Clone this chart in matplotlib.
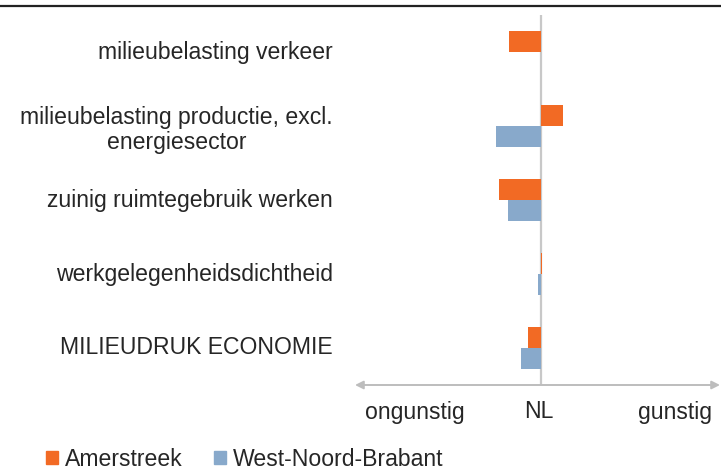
import matplotlib
matplotlib.use('Agg')
import numpy as np
import matplotlib.pyplot as plt
from matplotlib.patches import Patch
from matplotlib.lines import Line2D

# indicatoren (van boven naar beneden)
categories = ['milieubelasting verkeer',
              'milieubelasting productie, excl.\nenergiesector',
              'zuinig ruimtegebruik werken',
              'werkgelegenheidsdichtheid',
              'MILIEUDRUK ECONOMIE']
amerstreek = [-3.2, 2.2, -4.2, 0.1, -1.3]
west_noord_brabant = [-0.05, -4.5, -3.3, -0.3, -2.0]
series_names = ['Amerstreek', 'West-Noord-Brabant']
axis_labels = ['ongunstig', 'NL', 'gunstig']
axis_label_pos = [-12.6, -0.2, 13.4]

c_orange = '#F26A24'
c_blue = '#88A9CB'
c_text = '#262626'
fs = 16.6

plt.rcParams['font.family'] = ['Liberation Sans', 'DejaVu Sans']

fig = plt.figure(figsize=(7.21, 4.71), dpi=100)
ax = fig.add_axes([355/721, 86/471, 365/721, 370/471])

y = np.arange(len(categories))
h = 0.284
ax.barh(y - h/2, amerstreek, height=h, color=c_orange, zorder=3)
ax.barh(y + h/2, west_noord_brabant, height=h, color=c_blue, zorder=3)

ax.set_xlim(-18.6, 17.9)
ax.set_ylim(4.5, -0.5)
ax.axis('off')

# nul-lijn (NL)
ax.axvline(0, color='#c8c8c8', lw=1.6, zorder=2)

# pijl-as onderaan
ax.annotate('', xy=(-18.6, 4.5), xytext=(17.9, 4.5), xycoords='data',
            arrowprops=dict(arrowstyle='<|-|>', color='#bdbdbd', lw=1.4,
                            mutation_scale=12, shrinkA=0, shrinkB=0),
            annotation_clip=False)

for i, cat in enumerate(categories):
    dy = 0.05 if '\n' in cat else 0
    ax.text(-20.8, i + dy, cat, ha='right', va='center', multialignment='center',
            fontsize=fs, color=c_text, linespacing=1.12, clip_on=False)

for lab, xp in zip(axis_labels, axis_label_pos):
    ax.text(xp, 4.5 + 27/74, lab, ha='center', va='center',
            fontsize=fs, color=c_text, clip_on=False)

# lijn bovenaan
fig.add_artist(Line2D([0, 1], [1 - 6/471, 1 - 6/471], color='#222222', lw=1.6))

handles = [Patch(color=c_orange), Patch(color=c_blue)]
fig.legend(handles, series_names, loc='center left',
           bbox_to_anchor=(46/721, 12/471), ncol=2, frameon=False,
           fontsize=fs, handlelength=0.52, handleheight=0.52,
           handletextpad=0.3, columnspacing=1.35, borderpad=0,
           borderaxespad=0, labelcolor=c_text)

plt.savefig('out.png', dpi=100)
